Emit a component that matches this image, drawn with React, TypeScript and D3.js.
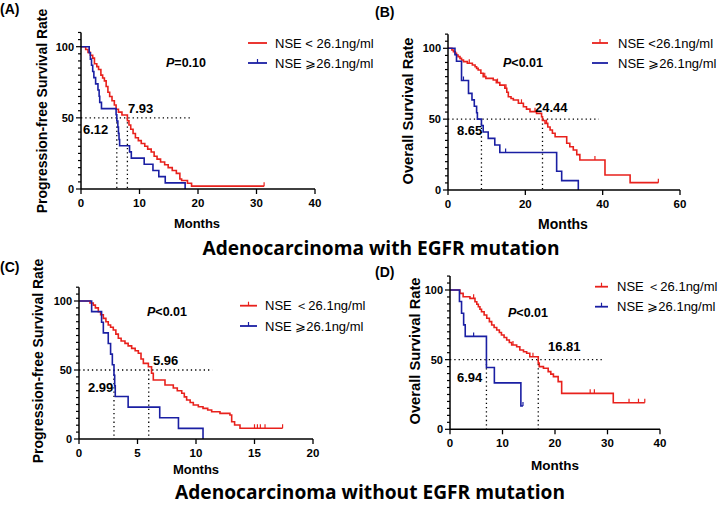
import React from 'react';
import * as d3 from 'd3';

type Step = [number, number];

// ---------- Data ----------
const panelLabels = ['(A)', '(B)', '(C)', '(D)'];
const yAxisTitles = ['Progression-free Survival Rate', 'Overall Survival Rate', 'Progression-free Survival Rate', 'Overall Survival Rate'];
const xAxisTitle = 'Months';
const pValues = ['=0.10', '<0.01', '<0.01', '<0.01'];
const legendRed = ['NSE < 26.1ng/ml', 'NSE  <26.1ng/ml', 'NSE \uFF1C26.1ng/ml', 'NSE \uFF1C26.1ng/ml'];
const legendBlue = ['NSE \u2A7E26.1ng/ml', 'NSE \u2A7E26.1ng/ml', 'NSE \u2A7E26.1ng/ml', 'NSE \u2A7E26.1ng/ml'];
const legendRedTick = [false, true, true, true];
const legendBlueTick = [true, false, true, true];
const titles = ['Adenocarcinoma with EGFR mutation', 'Adenocarcinoma without EGFR mutation'];

const xTicksA = [0, 10, 20, 30, 40];
const xTicksB = [0, 20, 40, 60];
const xTicksC = [0, 5, 10, 15, 20];
const xTicksD = [0, 10, 20, 30, 40];
const yTicks = [0, 50, 100];

// medians [red, blue]
const mediansA = [7.93, 6.12];
const mediansB = [24.44, 8.65];
const mediansC = [5.96, 2.99];
const mediansD = [16.81, 6.94];
const refLineEnd = [19, 39, 11.4, 29.1];

const aRed: Step[] = [[0,100],[0.8,98],[1.2,96],[1.6,94],[2.0,92],[2.3,88],[2.7,86],[3.0,84],[3.4,80],[3.7,78],[4.0,76],[4.3,72],[4.6,68],[4.9,65],[5.3,62],[5.7,59],[6.0,56],[6.4,54],[7.0,52],[7.93,48],[8.2,45],[8.5,42],[8.9,39],[9.3,36],[9.8,34],[10.3,32],[10.9,30],[11.4,28],[12.0,26],[12.5,23],[13.0,21],[13.6,19],[14.3,17],[14.9,15],[15.6,13],[16.3,11],[16.9,7],[17.2,6],[18.2,4],[18.9,2],[31.3,2]];
const aBlue: Step[] = [[0,100],[1.4,95.7],[1.6,91.3],[1.8,87],[2.0,82.6],[2.2,78.3],[2.5,73.9],[2.9,69.6],[3.1,65.2],[3.2,60.9],[3.5,56.5],[6.0,52.2],[6.12,47.8],[6.3,43.5],[6.4,39.1],[6.5,34.8],[6.6,30.4],[8.3,26.1],[8.6,21.7],[10.8,17.4],[12.3,13],[13.3,8.7],[14.4,4.3],[17.8,0]];
const aRedCensor = [31.3];
const aBlueCensor: number[] = [];

const bRed: Step[] = [[0,100],[1.0,98.8],[1.4,97.6],[1.9,96.4],[2.2,95.3],[2.6,94.1],[3.1,92.9],[3.5,91.7],[4.0,90.6],[5.0,89.4],[6.3,88.2],[7.0,87],[7.4,85.8],[7.8,84.7],[8.5,82.4],[9.1,80],[9.8,78.8],[11.7,77.6],[12.5,75.8],[13.4,74],[14.7,71.8],[15.2,69],[15.6,65.8],[16.3,64.6],[16.9,63.5],[18.2,61.2],[19.5,58.8],[20.3,57.1],[21.2,55.3],[22.9,54.1],[24.2,51.7],[24.44,49],[25.1,47],[25.8,44.5],[26.4,42.3],[27.0,40],[27.7,37.6],[30.7,33],[31.5,30.5],[32.4,28.2],[33.3,25],[34.1,21.2],[40.6,10.6],[47.1,5.2],[54.4,5.2]];
const bBlue: Step[] = [[0,100],[1.8,95.5],[2.2,90.9],[3.5,77.3],[5.3,68.2],[6.2,63.6],[6.8,59.1],[7.4,54.5],[7.6,50],[8.65,45.5],[9.1,40.9],[10.4,36.4],[12.1,31.8],[13.4,26.5],[28.1,13.2],[29.4,6.6],[33.7,0]];
const bRedCensor = [5.5, 9.5, 12.8, 15.0, 19.0, 22.5, 25.5, 38.0, 54.4];
const bBlueCensor = [4.0, 14.9];

const cRed: Step[] = [[0,100],[0.94,98.5],[1.22,97],[1.4,95],[1.65,92.2],[1.85,90],[2.08,87.4],[2.3,85],[2.5,82.6],[2.7,81],[2.93,79],[3.15,76],[3.36,73],[3.6,71],[3.93,69.3],[4.2,67.5],[4.5,65.7],[4.8,64],[5.07,62.1],[5.3,58],[5.5,54.8],[5.93,52.4],[6.2,47.6],[6.35,42.8],[7.35,39.1],[8.06,37],[8.4,35],[8.78,33.1],[9.0,30.5],[9.2,28.3],[9.5,26.5],[9.77,24.6],[10.2,23.4],[10.6,22.2],[11.0,21],[11.34,19.8],[12.05,18.6],[12.9,17.4],[13.05,12.5],[13.3,10.1],[13.76,7.8],[17.4,7.8]];
const cBlue: Step[] = [[0,100],[1.08,92.3],[1.93,84.6],[2.08,76.9],[2.5,69.2],[2.7,61.5],[2.85,53.8],[2.99,46.2],[3.05,38.5],[3.1,30.8],[4.2,23.1],[6.9,15.4],[8.5,7.7],[10.6,0]];
const cRedCensor = [15.0, 15.25, 15.5, 15.9, 17.4];
const cBlueCensor: number[] = [];

const dRed: Step[] = [[0,100],[1.9,97.6],[2.5,95.2],[3.8,94],[4.76,91.6],[5.1,89.8],[5.4,88],[5.7,86.2],[6.0,84.4],[6.5,82],[7.0,79.7],[7.5,77.3],[7.94,74.9],[8.4,73.1],[8.9,71.3],[9.4,69.5],[9.8,67.7],[10.3,65.9],[10.8,64.1],[11.3,62.3],[11.75,60.5],[12.7,59.3],[13.3,56.9],[14.0,55.7],[14.6,54.6],[15.2,52.1],[16.81,47.5],[17.0,45],[17.8,43.8],[18.7,41.4],[19.2,39.6],[19.7,37.8],[20.6,34.2],[21.27,25.8],[31.1,19.1],[37.1,19.1]];
const dBlue: Step[] = [[0,100],[1.8,91.7],[2.2,83.3],[2.6,75],[2.9,66.7],[6.94,44.4],[8.45,33.3],[13.5,16.7],[13.9,16.7]];
const dRedCensor = [4.5, 12.0, 15.8, 26.7, 27.5, 34.1, 35.9, 37.1];
const dBlueCensor = [4.5, 13.9];

// ---------- Style / layout ----------
const RED = '#e8211c';
const BLUE = '#1a1fa3';
const FONT = "'Liberation Sans', Arial, Helvetica, sans-serif";
const TITLE_FONT = "'Open Sans', 'Noto Sans', sans-serif";

type Layout = {
  x0: number; x1: number; y0: number; y100: number; xMax: number;
  labelX: number; labelY: number;
  yTitleX: number; yTitleY: number; yTitleSize: number;
  xTitleX: number; xTitleY: number; xTitleSize: number;
  legX0: number; legX1: number; legTextX: number; legY1: number; legY2: number;
  pX: number; pY: number;
  redLabX: number; redLabY: number; blueLabX: number; blueLabY: number;
};

const layouts: Layout[] = [
  { x0: 81, x1: 315, y0: 189, y100: 46.7, xMax: 40, labelX: 0, labelY: 14,
    yTitleX: 47, yTitleY: 111, yTitleSize: 14, xTitleX: 197, xTitleY: 228, xTitleSize: 13,
    legX0: 248, legX1: 267, legTextX: 275, legY1: 43, legY2: 63, pX: 166, pY: 67,
    redLabX: 128, redLabY: 112.5, blueLabX: 83, blueLabY: 133.5 },
  { x0: 448, x1: 680, y0: 190, y100: 48.3, xMax: 60, labelX: 375, labelY: 17,
    yTitleX: 413, yTitleY: 111, yTitleSize: 14.7, xTitleX: 563, xTitleY: 229, xTitleSize: 14,
    legX0: 592, legX1: 608, legTextX: 618, legY1: 43, legY2: 63, pX: 503, pY: 67,
    redLabX: 535, redLabY: 111.5, blueLabX: 457, blueLabY: 134.5 },
  { x0: 79, x1: 313, y0: 439, y100: 301, xMax: 20, labelX: 0, labelY: 272,
    yTitleX: 43, yTitleY: 361, yTitleSize: 14, xTitleX: 196, xTitleY: 474, xTitleSize: 13,
    legX0: 240, legX1: 257, legTextX: 265, legY1: 305.7, legY2: 326, pX: 147, pY: 316,
    redLabX: 153, redLabY: 364.5, blueLabX: 88, blueLabY: 391.5 },
  { x0: 450, x1: 660, y0: 429.3, y100: 290, xMax: 40, labelX: 375, labelY: 277,
    yTitleX: 420, yTitleY: 351, yTitleSize: 14.7, xTitleX: 555, xTitleY: 470, xTitleSize: 13.5,
    legX0: 595, legX1: 608, legTextX: 617, legY1: 286.7, legY2: 306.7, pX: 508, pY: 317,
    redLabX: 548, redLabY: 350.5, blueLabX: 457, blueLabY: 381.5 },
];

const series = [
  { red: aRed, blue: aBlue, redC: aRedCensor, blueC: aBlueCensor, med: mediansA, xt: xTicksA },
  { red: bRed, blue: bBlue, redC: bRedCensor, blueC: bBlueCensor, med: mediansB, xt: xTicksB },
  { red: cRed, blue: cBlue, redC: cRedCensor, blueC: cBlueCensor, med: mediansC, xt: xTicksC },
  { red: dRed, blue: dBlue, redC: dRedCensor, blueC: dBlueCensor, med: mediansD, xt: xTicksD },
];

function stepAt(steps: Step[], t: number): number {
  let v = steps[0][1];
  for (const [tt, s] of steps) {
    if (tt <= t + 1e-9) v = s; else break;
  }
  return v;
}

function Panel({ i }: { i: number }) {
  const L = layouts[i];
  const S = series[i];
  const x = d3.scaleLinear().domain([0, L.xMax]).range([L.x0, L.x1]);
  const y = d3.scaleLinear().domain([0, 100]).range([L.y0, L.y100]);
  const line = d3.line<Step>().x(d => x(d[0])).y(d => y(d[1])).curve(d3.curveStepAfter);
  const minor = d3.range(0, 111, 5);
  const fmt = (v: number) => v.toFixed(2);

  return (
    <g>
      <text x={L.labelX} y={L.labelY} fontFamily={FONT} fontWeight="bold" fontSize={14}>{panelLabels[i]}</text>
      <text transform={`translate(${L.yTitleX},${L.yTitleY}) rotate(-90)`} textAnchor="middle"
        fontFamily={FONT} fontWeight="bold" fontSize={L.yTitleSize}>{yAxisTitles[i]}</text>
      <text x={L.xTitleX} y={L.xTitleY} textAnchor="middle" fontFamily={FONT} fontWeight="bold" fontSize={L.xTitleSize}>{xAxisTitle}</text>

      <line x1={x(0)} x2={x(refLineEnd[i])} y1={y(50)} y2={y(50)} stroke="#000" strokeWidth={1.3} strokeDasharray="1.3 3" />
      {S.med.map((m, k) => (
        <line key={k} x1={x(m)} x2={x(m)} y1={y(50)} y2={y(0)} stroke="#000" strokeWidth={1.3} strokeDasharray="1.3 3" />
      ))}

      <path d={line(S.red) || ''} fill="none" stroke={RED} strokeWidth={1.6} />
      {S.redC.map((t, k) => (
        <line key={k} x1={x(t)} x2={x(t)} y1={y(stepAt(S.red, t))} y2={y(stepAt(S.red, t)) - 4} stroke={RED} strokeWidth={1.2} />
      ))}
      <path d={line(S.blue) || ''} fill="none" stroke={BLUE} strokeWidth={1.6} />
      {S.blueC.map((t, k) => (
        <line key={k} x1={x(t)} x2={x(t)} y1={y(stepAt(S.blue, t))} y2={y(stepAt(S.blue, t)) - 4} stroke={BLUE} strokeWidth={1.2} />
      ))}

      <line x1={x(0)} x2={x(0)} y1={y(0)} y2={y(110)} stroke="#000" strokeWidth={1.5} />
      {minor.map(v => (
        <line key={v} x1={x(0) - (v % 50 === 0 ? 5 : 3)} x2={x(0)} y1={y(v)} y2={y(v)} stroke="#000" strokeWidth={1.2} />
      ))}
      {yTicks.map(v => (
        <text key={v} x={x(0) - 7} y={y(v) + 4} textAnchor="end" fontFamily={FONT} fontWeight="bold" fontSize={11}>{v}</text>
      ))}
      <line x1={x(0)} x2={x(L.xMax)} y1={y(0)} y2={y(0)} stroke="#000" strokeWidth={1.5} />
      {S.xt.map(v => (
        <g key={v}>
          <line x1={x(v)} x2={x(v)} y1={y(0)} y2={y(0) + 5} stroke="#000" strokeWidth={1.3} />
          <text x={x(v)} y={y(0) + 18} textAnchor="middle" fontFamily={FONT} fontWeight="bold" fontSize={11.5}>{v}</text>
        </g>
      ))}

      <text x={L.pX} y={L.pY} fontFamily={FONT} fontWeight="bold" fontSize={12.5}>
        <tspan fontStyle="italic">P</tspan>{pValues[i]}
      </text>

      <text x={L.redLabX} y={L.redLabY} fontFamily={FONT} fontWeight="bold" fontSize={13}>{fmt(S.med[0])}</text>
      <text x={L.blueLabX} y={L.blueLabY} fontFamily={FONT} fontWeight="bold" fontSize={13}>{fmt(S.med[1])}</text>

      <line x1={L.legX0} x2={L.legX1} y1={L.legY1} y2={L.legY1} stroke={RED} strokeWidth={1.8} />
      {legendRedTick[i] && <line x1={(L.legX0 + L.legX1) / 2} x2={(L.legX0 + L.legX1) / 2} y1={L.legY1} y2={L.legY1 - 4} stroke={RED} strokeWidth={1.2} />}
      <text x={L.legTextX} y={L.legY1 + 4.5} fontFamily={FONT} fontSize={13}>{legendRed[i]}</text>
      <line x1={L.legX0} x2={L.legX1} y1={L.legY2} y2={L.legY2} stroke={BLUE} strokeWidth={1.8} />
      {legendBlueTick[i] && <line x1={(L.legX0 + L.legX1) / 2} x2={(L.legX0 + L.legX1) / 2} y1={L.legY2} y2={L.legY2 - 4} stroke={BLUE} strokeWidth={1.2} />}
      <text x={L.legTextX} y={L.legY2 + 4.5} fontFamily={FONT} fontSize={13}>{legendBlue[i]}</text>
    </g>
  );
}

export default function App() {
  return (
    <svg width={720} height={505} style={{ position: 'absolute', left: 0, top: 0, background: '#fff' }}>
      <rect x={0} y={0} width={720} height={505} fill="#fff" />
      {[0, 1, 2, 3].map(i => <Panel key={i} i={i} />)}
      <text x={381} y={255} textAnchor="middle" fontFamily={TITLE_FONT} fontWeight="bold" fontSize={19}
        textLength={357} lengthAdjust="spacingAndGlyphs">{titles[0]}</text>
      <text x={370} y={499} textAnchor="middle" fontFamily={TITLE_FONT} fontWeight="bold" fontSize={19}
        textLength={390} lengthAdjust="spacingAndGlyphs">{titles[1]}</text>
    </svg>
  );
}
